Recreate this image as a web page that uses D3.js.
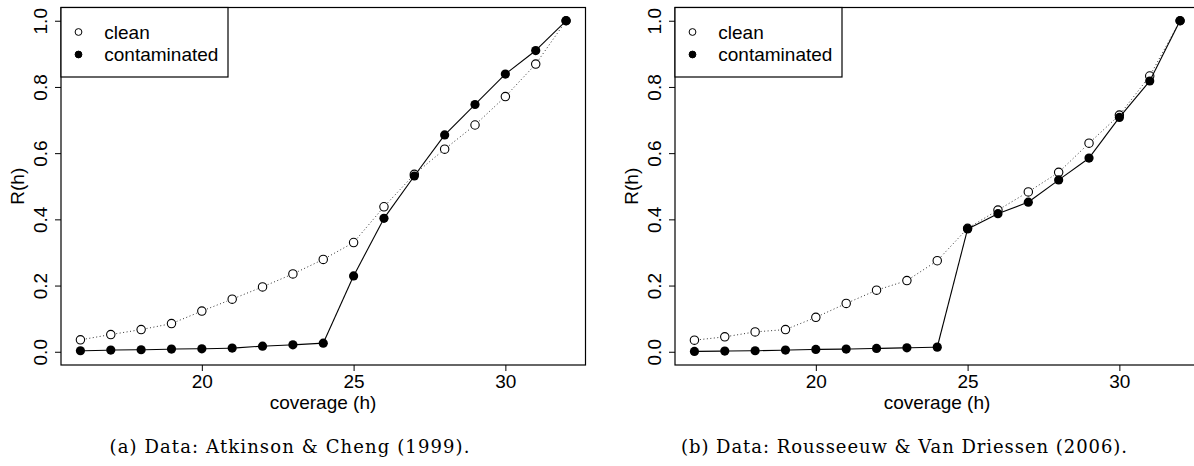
<!DOCTYPE html>
<html>
<head>
<meta charset="utf-8">
<script src="https://cdn.jsdelivr.net/npm/d3@7"></script>
<style>
body { margin: 0; background: #fff; }
svg { display: block; }
.axis text { font-family: "Liberation Sans", Arial, sans-serif; font-size: 19px; fill: #000; }
.axis line { stroke: #000; }
</style>
</head>
<body>
<div id="chart"></div>
<script>
//////////////////////////////////////////////////////////////////////////////
// Data

var coverage = [16, 17, 18, 19, 20, 21, 22, 23, 24, 25, 26, 27, 28, 29, 30, 31, 32];

var atkinsonClean = [0.036, 0.052, 0.067, 0.085, 0.123, 0.159, 0.196, 0.235, 0.279,
                     0.330, 0.438, 0.536, 0.612, 0.685, 0.771, 0.869, 1.000];
var atkinsonCont  = [0.003, 0.005, 0.006, 0.008, 0.009, 0.011, 0.017, 0.021, 0.026,
                     0.229, 0.403, 0.531, 0.655, 0.747, 0.839, 0.910, 1.000];

var rousseeuwClean = [0.035, 0.045, 0.060, 0.067, 0.104, 0.146, 0.186, 0.215, 0.275,
                      0.373, 0.428, 0.483, 0.542, 0.630, 0.715, 0.833, 1.000];
var rousseeuwCont  = [0.001, 0.002, 0.003, 0.005, 0.007, 0.008, 0.010, 0.012, 0.014,
                      0.371, 0.417, 0.452, 0.519, 0.585, 0.708, 0.818, 1.000];

var xTicks = [20, 25, 30];
var yTicks = [0, 0.2, 0.4, 0.6, 0.8, 1.0];
var legendLabels = ["clean", "contaminated"];
var xTitle = "coverage (h)";
var yTitle = "R(h)";
var captions = ["(a) Data: Atkinson & Cheng (1999).",
                "(b) Data: Rousseeuw & Van Driessen (2006)."];

//////////////////////////////////////////////////////////////////////////////

var width = 1194, height = 466;
var fontSans = '"Liberation Sans", Arial, sans-serif';

var svg = d3.select("#chart")
    .append("svg")
    .attr("width", width)
    .attr("height", height);

// R style axis padding: 4% each side
function padded(lo, hi) {
    var d = (hi - lo) * 0.04;
    return [lo - d, hi + d];
}

// type="b": segments with a gap round each point
function gappedSegments(pts, gap) {
    var out = [];
    for (var i = 0; i < pts.length - 1; ++i) {
        var a = pts[i], b = pts[i + 1];
        var dx = b[0] - a[0], dy = b[1] - a[1];
        var len = Math.sqrt(dx * dx + dy * dy);
        if (len <= 2 * gap) continue;
        var ux = dx / len, uy = dy / len;
        out.push([[a[0] + ux * gap, a[1] + uy * gap], [b[0] - ux * gap, b[1] - uy * gap]]);
    }
    return out;
}

function drawPanel(opt)
{
    var g = svg.append("g");

    var x = d3.scaleLinear().domain(padded(16, 32)).range([opt.left, opt.left + 524.5]);
    var y = d3.scaleLinear().domain(padded(0, 1)).range([365, 7.5]);

    // axes
    g.append("g")
        .attr("class", "axis")
        .attr("transform", "translate(0,365)")
        .call(d3.axisBottom(x).tickValues(xTicks).tickSize(6).tickSizeOuter(0).tickPadding(4))
        .call(function(s) { s.select(".domain").remove(); })
        .selectAll("text").attr("dy", "0.71em");

    var ya = g.append("g")
        .attr("class", "axis")
        .attr("transform", "translate(" + opt.left + ",0)")
        .call(d3.axisLeft(y).tickValues(yTicks).tickSize(6).tickSizeOuter(0)
              .tickFormat(d3.format(".1f")))
        .call(function(s) { s.select(".domain").remove(); });
    ya.selectAll("text")
        .attr("x", null).attr("dy", null)
        .attr("text-anchor", "middle")
        .attr("transform", "translate(-14,0) rotate(-90)");

    // axis titles
    g.append("text")
        .attr("x", opt.left + 262)
        .attr("y", 409)
        .attr("text-anchor", "middle")
        .style("font-family", fontSans)
        .style("font-size", "19px")
        .text(xTitle);

    g.append("text")
        .attr("transform", "translate(" + (opt.left - 37) + "," + y(0.5) + ") rotate(-90)")
        .attr("text-anchor", "middle")
        .style("font-family", fontSans)
        .style("font-size", "19px")
        .text(yTitle);

    // series
    var ptsClean = coverage.map(function(h, i) { return [x(h), y(opt.clean[i])]; });
    var ptsCont  = coverage.map(function(h, i) { return [x(h), y(opt.cont[i])]; });

    g.append("g").selectAll("line")
        .data(gappedSegments(ptsClean, 5.5))
        .enter().append("line")
        .attr("x1", function(d) { return d[0][0]; })
        .attr("y1", function(d) { return d[0][1]; })
        .attr("x2", function(d) { return d[1][0]; })
        .attr("y2", function(d) { return d[1][1]; })
        .attr("stroke", "#333")
        .attr("stroke-width", 1)
        .attr("stroke-dasharray", "1,2.5");

    g.append("g").selectAll("line")
        .data(gappedSegments(ptsCont, 4))
        .enter().append("line")
        .attr("x1", function(d) { return d[0][0]; })
        .attr("y1", function(d) { return d[0][1]; })
        .attr("x2", function(d) { return d[1][0]; })
        .attr("y2", function(d) { return d[1][1]; })
        .attr("stroke", "#000")
        .attr("stroke-width", 1.1);

    g.append("g").selectAll("circle")
        .data(ptsClean)
        .enter().append("circle")
        .attr("cx", function(d) { return d[0]; })
        .attr("cy", function(d) { return d[1]; })
        .attr("r", 4.2)
        .attr("fill", "none")
        .attr("stroke", "#000")
        .attr("stroke-width", 1.1);

    g.append("g").selectAll("circle")
        .data(ptsCont)
        .enter().append("circle")
        .attr("cx", function(d) { return d[0]; })
        .attr("cy", function(d) { return d[1]; })
        .attr("r", 4.6)
        .attr("fill", "#000");

    // plot box
    g.append("rect")
        .attr("x", opt.left)
        .attr("y", 7.5)
        .attr("width", 524.5)
        .attr("height", 357.5)
        .attr("fill", "none")
        .attr("stroke", "#000")
        .attr("stroke-width", 1.2);

    // legend
    var lg = g.append("g").attr("transform", "translate(" + opt.left + ",7.5)");
    lg.append("rect")
        .attr("width", 167)
        .attr("height", 69.5)
        .attr("fill", "#fff")
        .attr("stroke", "#000")
        .attr("stroke-width", 1.2);
    var rows = lg.selectAll("g.row")
        .data(legendLabels)
        .enter().append("g")
        .attr("class", "row")
        .attr("transform", function(d, i) { return "translate(0," + (24.5 + i * 22.5) + ")"; });
    rows.append("circle")
        .attr("cx", 17.5)
        .attr("r", 3.4)
        .attr("fill", function(d, i) { return i ? "#000" : "none"; })
        .attr("stroke", "#000")
        .attr("stroke-width", 1);
    rows.append("text")
        .attr("x", 43.3)
        .attr("y", 6.5)
        .style("font-family", fontSans)
        .style("font-size", "19px")
        .text(function(d) { return d; });

    // caption
    svg.append("text")
        .attr("x", opt.captionX)
        .attr("y", 453)
        .attr("text-anchor", "middle")
        .attr("textLength", opt.captionW)
        .attr("lengthAdjust", "spacing")
        .style("font-family", '"DejaVu Serif", "Liberation Serif", serif')
        .style("font-size", "18px")
        .text(opt.caption);
}

drawPanel({ left: 61, clean: atkinsonClean, cont: atkinsonCont,
            caption: captions[0], captionX: 289.5, captionW: 360 });
drawPanel({ left: 675, clean: rousseeuwClean, cont: rousseeuwCont,
            caption: captions[1], captionX: 904, captionW: 446 });
</script>
</body>
</html>
